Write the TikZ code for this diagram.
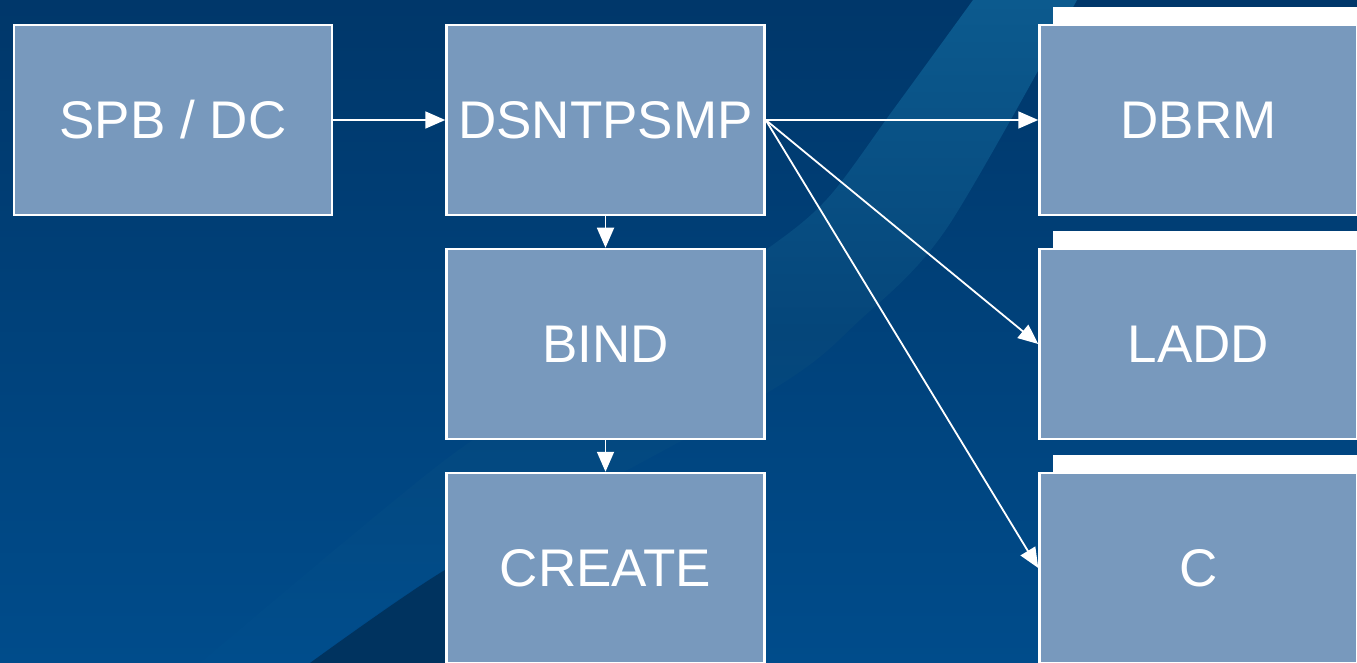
\documentclass[tikz,border=0pt]{standalone}
\usepackage{fontspec}
\setmainfont{Liberation Sans}
\usetikzlibrary{arrows.meta}
\definecolor{bgtop}{HTML}{00376A}
\definecolor{bgbot}{HTML}{004C8B}
\definecolor{swlight}{HTML}{0C5A8E}
\definecolor{swmid}{HTML}{05467A}
\definecolor{swlow}{HTML}{004D8C}
\definecolor{swdark}{HTML}{00335F}
\definecolor{boxfill}{HTML}{7899BD}
\tikzset{
  box/.style={draw=white, line width=2.5pt, fill=boxfill, minimum width=318pt,
    minimum height=190pt, inner sep=0pt, text=white,
    font=\fontsize{53}{60}\selectfont},
  conn/.style={draw=white, line width=1.8pt, -{Triangle[length=20pt,width=17pt]}},
  topbar/.style={fill=white, draw=none}
}
\begin{document}
\begin{tikzpicture}[x=1pt,y=-1pt]
\useasboundingbox (0,0) rectangle (1357,663);
\begin{scope}
\clip (0,0) rectangle (1357,663);
% background
\shade[top color=bgtop, bottom color=bgbot] (0,0) rectangle (1357,663);
% swoosh stripe
\begin{scope}
\clip plot[smooth] coordinates {(973,0) (893,110) (827,199) (760,254) (600,360) (445,460) (200,663)}
  -- (310,663) -- plot[smooth] coordinates {(310,663) (445,570) (767,393) (860,320) (947,228) (1077,0)} -- cycle;
\shade[top color=swlight, bottom color=swlow, middle color=swmid] (0,0) rectangle (1357,663);
\end{scope}
% dark shadow at bottom
\fill[swdark] plot[smooth] coordinates {(310,663) (445,570) (600,490)} -- (720,663) -- cycle;
\end{scope}
% white bars behind right boxes
\fill[topbar] (1053,7) rectangle (1357,25);
\fill[topbar] (1053,231) rectangle (1357,249);
\fill[topbar] (1053,455) rectangle (1357,473);
% boxes
\node[box] (spb) at (173,120) {SPB / DC};
\node[box] (dsnt) at (605.5,120) {DSNTPSMP};
\node[box] (bind) at (605.5,344) {BIND};
\node[box] (create) at (605.5,568) {CREATE};
\node[box] (dbrm) at (1198.5,120) {DBRM};
\node[box] (ladd) at (1198.5,344) {LADD};
\node[box] (cc) at (1198.5,568) {C};
% connectors
\draw[conn] (spb.east) -- (dsnt.west);
\draw[conn] (dsnt.south) -- (bind.north);
\draw[conn] (bind.south) -- (create.north);
\draw[conn] (dsnt.east) -- (dbrm.west);
\draw[conn] (dsnt.east) -- (ladd.west);
\draw[conn] (dsnt.east) -- (cc.west);
\end{tikzpicture}
\end{document}
